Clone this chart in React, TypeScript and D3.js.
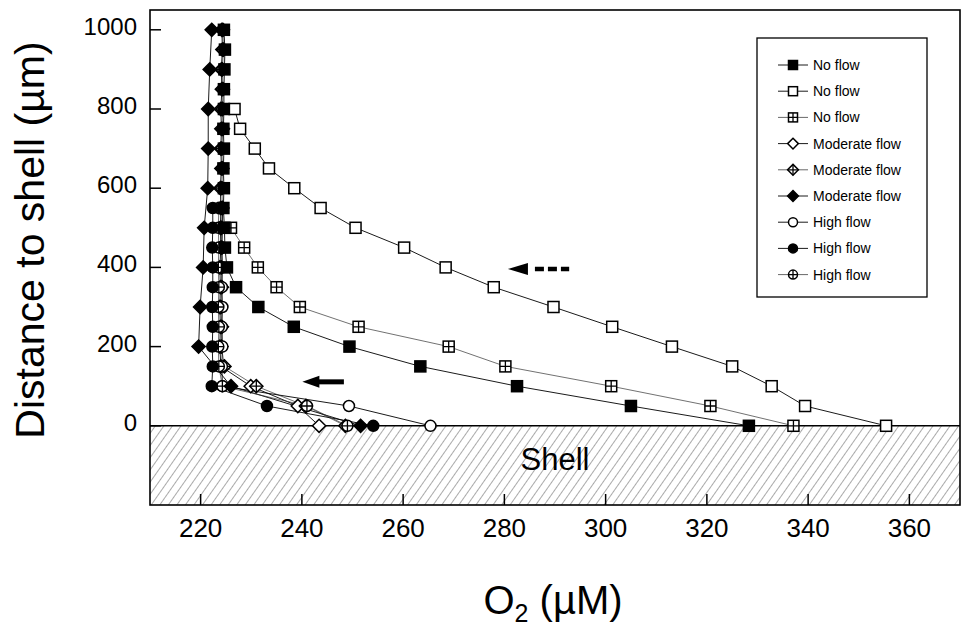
import * as d3 from "d3";

// O2 profiles: depth above shell (µm) and O2 (µM)
const noFlowDepthA = [1000, 950, 900, 850, 800, 750, 700, 650, 600, 550, 500, 450, 400, 350, 300, 250, 200, 150, 100, 50, 0];
const noFlowO2A = [224.6, 224.8, 224.7, 224.6, 224.6, 224.5, 224.6, 224.5, 224.6, 224.5, 224.7, 224.8, 225.2, 227.0, 231.4, 238.4, 249.4, 263.4, 282.5, 305.0, 328.3];

const noFlowDepthB = [800, 750, 700, 650, 600, 550, 500, 450, 400, 350, 300, 250, 200, 150, 100, 50, 0];
const noFlowO2B = [226.7, 227.8, 230.7, 233.5, 238.5, 243.7, 250.6, 260.2, 268.4, 277.9, 289.7, 301.3, 313.1, 325.0, 332.8, 339.4, 355.4];

const noFlowDepthC = [500, 450, 400, 350, 300, 250, 200, 150, 100, 50, 0];
const noFlowO2C = [226.0, 228.6, 231.3, 235.0, 239.6, 251.2, 269.0, 280.2, 301.1, 320.7, 337.1];

const modDepthA = [1000, 950, 900, 850, 800, 750, 700, 650, 600, 550, 500, 450, 400, 350, 300, 250, 200, 150, 100, 50, 0];
const modO2A = [224.2, 224.3, 224.1, 224.2, 224.0, 224.1, 224.0, 224.1, 223.9, 224.0, 223.9, 224.0, 223.8, 223.9, 223.8, 223.9, 223.8, 224.0, 229.9, 239.2, 243.4];

const modDepthB = [1000, 950, 900, 850, 800, 750, 700, 650, 600, 550, 500, 450, 400, 350, 300, 250, 200, 150, 100, 50, 0];
const modO2B = [224.4, 224.5, 224.3, 224.4, 224.3, 224.4, 224.2, 224.3, 224.2, 224.3, 224.1, 224.2, 224.1, 224.2, 224.0, 224.2, 224.1, 224.7, 231.0, 240.8, 248.6];

const modDepthC = [1000, 900, 800, 700, 600, 500, 400, 300, 200, 100, 0];
const modO2C = [222.2, 221.8, 221.5, 221.5, 221.4, 220.7, 220.5, 219.9, 219.6, 226.0, 251.6];

const highDepthA = [550, 500, 450, 400, 350, 300, 250, 200, 150, 100, 50, 0];
const highO2A = [224.3, 224.3, 224.2, 224.3, 224.2, 224.3, 224.2, 224.3, 224.2, 224.3, 249.3, 265.4];

const highDepthB = [550, 500, 450, 400, 350, 300, 250, 200, 150, 100, 50, 0];
const highO2B = [222.4, 222.4, 222.3, 222.4, 222.4, 222.3, 222.4, 222.3, 222.4, 222.2, 233.1, 254.1];

const highDepthC = [550, 500, 450, 400, 350, 300, 250, 200, 150, 100, 50, 0];
const highO2C = [223.6, 223.5, 223.6, 223.5, 223.6, 223.5, 223.6, 223.5, 223.6, 224.3, 241.0, 249.0];

const xTicks = [220, 240, 260, 280, 300, 320, 340, 360];
const yTicks = [0, 200, 400, 600, 800, 1000];

const series = [
  { label: "No flow", shape: "square", filled: true, cross: false, thin: false, depth: noFlowDepthA, o2: noFlowO2A },
  { label: "No flow", shape: "square", filled: false, cross: false, thin: false, depth: noFlowDepthB, o2: noFlowO2B },
  { label: "No flow", shape: "square", filled: false, cross: true, thin: true, depth: noFlowDepthC, o2: noFlowO2C },
  { label: "Moderate flow", shape: "diamond", filled: false, cross: false, thin: false, depth: modDepthA, o2: modO2A },
  { label: "Moderate flow", shape: "diamond", filled: false, cross: true, thin: true, depth: modDepthB, o2: modO2B },
  { label: "Moderate flow", shape: "diamond", filled: true, cross: false, thin: false, depth: modDepthC, o2: modO2C },
  { label: "High flow", shape: "circle", filled: false, cross: false, thin: false, depth: highDepthA, o2: highO2A },
  { label: "High flow", shape: "circle", filled: true, cross: false, thin: false, depth: highDepthB, o2: highO2B },
  { label: "High flow", shape: "circle", filled: false, cross: true, thin: true, depth: highDepthC, o2: highO2C },
];
// open symbols first, filled ones on top (as in the original plot)
const drawOrder = [1, 2, 3, 4, 6, 8, 0, 5, 7];

const W = 964;
const H = 631;
const left = 150, right = 960, top = 10, bottom = 505;
const font = "'Liberation Sans', Arial, Helvetica, sans-serif";

const x = d3.scaleLinear().domain([210, 370]).range([left, right]);
const y = d3.scaleLinear().domain([-200, 1050]).range([bottom, top]);

function Marker({ shape, filled, cross, cx, cy, s }: any) {
  const fill = filled ? "#000" : "#fff";
  const sw = 1.5;
  if (shape === "square") {
    return (
      <g>
        <rect x={cx - s / 2} y={cy - s / 2} width={s} height={s} fill={fill} stroke="#000" strokeWidth={sw} />
        {cross && <path d={`M${cx - s / 2},${cy}H${cx + s / 2}M${cx},${cy - s / 2}V${cy + s / 2}`} stroke="#000" strokeWidth={1.3} />}
      </g>
    );
  }
  if (shape === "diamond") {
    const r = s * 0.6;
    return (
      <g>
        <path d={`M${cx},${cy - r}L${cx + r},${cy}L${cx},${cy + r}L${cx - r},${cy}Z`} fill={fill} stroke="#000" strokeWidth={sw} />
        {cross && <path d={`M${cx - r},${cy}H${cx + r}M${cx},${cy - r}V${cy + r}`} stroke="#000" strokeWidth={1.3} />}
      </g>
    );
  }
  const r = s / 2;
  return (
    <g>
      <circle cx={cx} cy={cy} r={r} fill={fill} stroke="#000" strokeWidth={sw} />
      {cross && <path d={`M${cx - r},${cy}H${cx + r}M${cx},${cy - r}V${cy + r}`} stroke="#000" strokeWidth={1.3} />}
    </g>
  );
}

export default function App() {
  const legX = 757, legY = 38, legW = 170, legH = 259;

  // annotation arrows (in data units)
  const solidTip = [240.1, 111], solidTail = [248.3, 111];
  const dashTip = [280.7, 396], dashTail = [292.8, 396];

  return (
    <svg width={W} height={H} style={{ position: "absolute", left: 0, top: 0, background: "#fff" }} fontFamily={font}>
      <defs>
        <pattern id="hatch" width={7} height={8} patternUnits="userSpaceOnUse" patternTransform="rotate(35)">
          <line x1={0} y1={0} x2={0} y2={8} stroke="#555" strokeWidth={1} />
        </pattern>
        <clipPath id="plot">
          <rect x={left} y={top} width={right - left} height={bottom - top} />
        </clipPath>
      </defs>
      <rect width={W} height={H} fill="#fff" />

      {/* shell */}
      <rect x={left} y={y(0)} width={right - left} height={y(-200) - y(0)} fill="url(#hatch)" />
      <line x1={left} x2={right} y1={y(0)} y2={y(0)} stroke="#000" strokeWidth={1.5} />
      <text x={(left + right) / 2} y={y(-112)} textAnchor="middle" fontSize={31} fill="#000">Shell</text>

      {/* series lines */}
      <g clipPath="url(#plot)">
        {series.map((s, i) => {
          const pts = s.depth.map((d, j) => [x(s.o2[j]), y(d)] as [number, number]);
          return (
            <path
              key={"l" + i}
              d={d3.line()(pts) || ""}
              fill="none"
              stroke={s.thin ? "#333" : "#000"}
              strokeWidth={s.thin ? 0.7 : 0.9}
            />
          );
        })}
        {drawOrder.map((i) => {
          const s = series[i];
          return (
            <g key={"m" + i}>
              {s.depth.map((d, j) => (
                <Marker key={j} shape={s.shape} filled={s.filled} cross={s.cross} cx={x(s.o2[j])} cy={y(d)} s={11} />
              ))}
            </g>
          );
        })}
      </g>

      {/* arrows */}
      <g>
        <path d={`M${x(solidTip[0])},${y(solidTip[1])}l17,-6v12z`} fill="#000" />
        <line x1={x(solidTip[0]) + 15} x2={x(solidTail[0])} y1={y(solidTip[1])} y2={y(solidTail[1])} stroke="#000" strokeWidth={5} />
        <path d={`M${x(dashTip[0])},${y(dashTip[1])}l20,-6v12z`} fill="#000" />
        <line x1={x(dashTip[0]) + 27} x2={x(dashTail[0])} y1={y(dashTip[1])} y2={y(dashTail[1])} stroke="#000" strokeWidth={4.5} strokeDasharray="9,4" />
      </g>

      {/* frame */}
      <rect x={left} y={top} width={right - left} height={bottom - top} fill="none" stroke="#000" strokeWidth={1.6} />

      {/* y axis */}
      {yTicks.map((t) => (
        <g key={"y" + t}>
          <line x1={left} x2={left + 11} y1={y(t)} y2={y(t)} stroke="#000" strokeWidth={1.5} />
          <text x={137} y={y(t) + 5} textAnchor="end" fontSize={24} fill="#000">{t}</text>
        </g>
      ))}
      {/* x axis */}
      {xTicks.map((t) => (
        <g key={"x" + t}>
          <line x1={x(t)} x2={x(t)} y1={bottom} y2={bottom - 11} stroke="#000" strokeWidth={1.5} />
          <text x={x(t)} y={537} textAnchor="middle" fontSize={26} fill="#000">{t}</text>
        </g>
      ))}

      <text transform={`translate(44,240) rotate(-90)`} textAnchor="middle" fontSize={41} fill="#000">
        Distance to shell (µm)
      </text>
      <text x={553} y={614} textAnchor="middle" fontSize={40} fill="#000">
        O<tspan fontSize={25} dy={8}>2</tspan><tspan dy={-8}> (µM)</tspan>
      </text>

      {/* legend */}
      <rect x={legX} y={legY} width={legW} height={legH} fill="#fff" stroke="#000" strokeWidth={1.3} />
      {series.map((s, i) => {
        const ly = legY + 27 + i * 26.2;
        return (
          <g key={"g" + i}>
            <line x1={legX + 21} x2={legX + 51} y1={ly} y2={ly} stroke="#000" strokeWidth={s.thin ? 0.6 : 0.9} />
            <Marker shape={s.shape} filled={s.filled} cross={s.cross} cx={legX + 36} cy={ly} s={9} />
            <text x={legX + 56} y={ly + 5} fontSize={14} fill="#000">{s.label}</text>
          </g>
        );
      })}
    </svg>
  );
}
